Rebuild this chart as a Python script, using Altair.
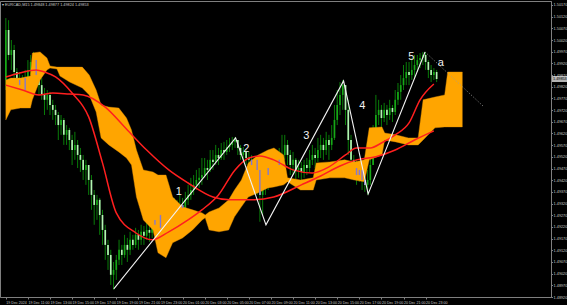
import altair as alt
import pandas as pd

# ---------------- data (prices in points, 1 point = 0.00001) ----------------
HEADER = "\u25be EURCAD,M15  1.49848 1.49877 1.49824 1.49853"
LAST_PRICE = 1.49853
LAST_LABEL = "1.49853"

FIRST_OPEN = 149849
HIGH = [150114, 150105, 150020, 149999, 149900, 149883, 149870, 149892, 149934, 149956,
        149969, 149956, 149892, 149857, 149815, 149806, 149798, 149764, 149742, 149712,
        149699, 149686, 149656, 149644, 149614, 149627, 149592, 149558, 149528, 149507,
        149485, 149442, 149378, 149357, 149344, 149293, 149229, 149165, 149122, 149070,
        149100, 149165, 149143, 149186, 149173, 149199, 149186, 149216, 149207, 149229,
        149224, 149242, 149233, 149271, 149293, 149259, 149314, 149336, 149314, 149336,
        149323, 149344, 149336, 149357, 149344, 149370, 149400, 149430, 149442, 149464,
        149472, 149515, 149515, 149507, 149549, 149549, 149571, 149558, 149579, 149584,
        149592, 149601, 149605, 149605, 149592, 149571, 149562, 149549, 149541, 149528,
        149515, 149528, 149507, 149442, 149485, 149515, 149528, 149549, 149528, 149558,
        149614, 149614, 149592, 149549, 149541, 149515, 149507, 149498, 149507, 149515,
        149549, 149571, 149558, 149601, 149614, 149601, 149627, 149614, 149656, 149742,
        149806, 149840, 149849, 149827, 149764, 149614, 149528, 149507, 149498, 149485,
        149455, 149464, 149549, 149656, 149785, 149764, 149742, 149751, 149742, 149764,
        149742, 149806, 149836, 149870, 149913, 149926, 149926, 149943, 149956, 149956,
        149964, 149969, 149969, 149934, 149913, 149900, 149892]
LOW = [149806, 149934, 149892, 149849, 149785, 149764, 149764, 149785, 149840, 149870,
       149883, 149849, 149785, 149764, 149699, 149721, 149699, 149678, 149656, 149592,
       149614, 149571, 149571, 149549, 149485, 149507, 149472, 149455, 149421, 149400,
       149357, 149293, 149229, 149250, 149186, 149143, 149079, 149036, 148972, 148951,
       148993, 149057, 149057, 149088, 149070, 149100, 149122, 149130, 149122, 149143,
       149143, 149165, 149156, 149173, 149199, 149165, 149199, 149229, 149229, 149250,
       149250, 149271, 149259, 149280, 149284, 149293, 149314, 149336, 149357, 149378,
       149387, 149400, 149430, 149421, 149455, 149464, 149485, 149485, 149507, 149507,
       149528, 149541, 149549, 149558, 149528, 149507, 149507, 149485, 149421, 149442,
       149370, 149357, 149242, 149271, 149357, 149378, 149442, 149464, 149455, 149464,
       149485, 149507, 149485, 149442, 149442, 149421, 149430, 149413, 149430, 149442,
       149455, 149485, 149472, 149498, 149515, 149507, 149528, 149507, 149549, 149592,
       149656, 149699, 149721, 149656, 149528, 149442, 149421, 149400, 149413, 149378,
       149370, 149357, 149400, 149485, 149592, 149656, 149648, 149669, 149656, 149678,
       149669, 149699, 149742, 149764, 149806, 149827, 149827, 149849, 149857, 149883,
       149900, 149913, 149892, 149857, 149840, 149849, 149840]
CLOSE = [150063, 149956, 149977, 149883, 149827, 149849, 149806, 149857, 149892, 149926,
         149934, 149870, 149827, 149785, 149764, 149785, 149742, 149721, 149699, 149656,
         149678, 149614, 149635, 149592, 149549, 149571, 149528, 149507, 149464, 149485,
         149421, 149357, 149314, 149336, 149271, 149207, 149143, 149100, 149015, 149036,
         149079, 149122, 149100, 149143, 149122, 149165, 149143, 149186, 149165, 149199,
         149182, 149207, 149195, 149229, 149250, 149216, 149271, 149293, 149271, 149301,
         149284, 149314, 149293, 149314, 149301, 149336, 149357, 149378, 149400, 149421,
         149430, 149442, 149472, 149464, 149507, 149498, 149528, 149515, 149549, 149541,
         149562, 149571, 149584, 149592, 149558, 149528, 149541, 149515, 149507, 149485,
         149507, 149464, 149357, 149400, 149442, 149472, 149485, 149507, 149485, 149507,
         149528, 149571, 149528, 149485, 149507, 149464, 149472, 149455, 149485, 149472,
         149507, 149528, 149515, 149549, 149571, 149549, 149592, 149571, 149601, 149678,
         149742, 149785, 149827, 149721, 149592, 149507, 149472, 149442, 149464, 149421,
         149400, 149421, 149485, 149592, 149699, 149721, 149686, 149721, 149699, 149729,
         149712, 149764, 149798, 149827, 149857, 149883, 149870, 149892, 149913, 149934,
         149943, 149956, 149926, 149892, 149870, 149883, 149853]
# candles drawn in the cloud's overlap colour
OVERLAP_BARS = [5, 7, 11, 54, 56, 64, 89, 91, 92, 95, 99, 127, 128, 129, 130]

# Ichimoku cloud (two spans)
CLOUD_BAR = [0.0, 1.8, 5.3, 8.9, 9.6, 12.4, 14.9, 16.0, 18.5, 19.6, 23.1, 27.7, 30.2, 32.7,
             34.5, 37.3, 40.9, 43.7, 45.5, 47.3, 49.8, 53.3, 55.1, 58.0, 60.4, 64.0, 67.6,
             71.1, 72.2, 73.6, 77.2, 80.7, 82.8, 85.3, 87.8, 91.4, 94.9, 97.1, 100.6, 102.0,
             106.7, 111.3, 112.4, 117.3, 122.7, 126.2, 129.8, 131.6, 136.2, 137.2, 141.2,
             145.8, 149.3, 151.1, 155.4, 158.9, 160.0, 165.3]
SPAN_A = [149849, 149857, 149857, 149866, 149964, 149969, 149943, 149909, 149904, 149904,
          149904, 149904, 149870, 149806, 149742, 149733, 149729, 149686, 149635, 149549,
          149464, 149455, 149442, 149442, 149348, 149306, 149293, 149280, 149271, 149284,
          149301, 149336, 149378, 149421, 149494, 149528, 149549, 149558, 149528, 149430,
          149421, 149430, 149494, 149498, 149507, 149498, 149507, 149644, 149648, 149622,
          149614, 149601, 149601, 149764, 149776, 149785, 149883, 149883]
SPAN_B = [149678, 149721, 149729, 149729, 149764, 149849, 149892, 149900, 149896, 149866,
          149840, 149815, 149785, 149712, 149601, 149571, 149541, 149515, 149485, 149348,
          149250, 149207, 149109, 149088, 149152, 149173, 149207, 149250, 149259, 149207,
          149199, 149207, 149263, 149306, 149348, 149366, 149387, 149391, 149400, 149413,
          149378, 149378, 149421, 149430, 149430, 149421, 149413, 149507, 149528, 149592,
          149584, 149571, 149571, 149592, 149644, 149648, 149648, 149648]

# two moving averages (red)
FAST_BAR = [0, 5, 11, 14, 18, 24, 30, 35, 40, 47, 53, 59, 66, 71, 77, 83, 88, 92, 97, 104,
            111, 117, 123, 127, 132, 136, 141, 146, 150, 155]
FAST_VAL = [149862, 149879, 149892, 149883, 149862, 149793, 149691, 149494, 149280, 149195,
            149165, 149199, 149250, 149293, 149357, 149464, 149515, 149524, 149507, 149464,
            149451, 149477, 149528, 149558, 149558, 149579, 149614, 149665, 149764, 149832]
SLOW_BAR = [0, 6, 12, 17, 23, 28, 36, 44, 51, 59, 66, 75, 81, 89, 97, 107, 114, 121, 127,
            134, 141, 148, 155]
SLOW_VAL = [149827, 149806, 149785, 149793, 149789, 149785, 149733, 149635, 149549, 149464,
            149408, 149348, 149336, 149336, 149348, 149400, 149438, 149481, 149507, 149520,
            149549, 149592, 149631]

# Elliott wave drawing
WAVE_BAR = [39.1, 83.2, 94.2, 122.3, 131.2, 151.8]
WAVE_VAL = [148955, 149601, 149229, 149845, 149361, 149969]
PROJ_BAR = [151.8, 173.2]
PROJ_VAL = [149969, 149733]
WAVE_TEXT = ["1", "2", "3", "4", "5", "a"]
WAVE_TEXT_BAR = [62.6, 87.1, 108.8, 129.1, 146.8, 157.5]
WAVE_TEXT_VAL = [149370, 149554, 149609, 149738, 149947, 149922]

# axes
TIME_LABELS = ["19 Dec 2024", "19 Dec 11:00", "19 Dec 13:00", "19 Dec 15:00", "19 Dec 17:00",
               "19 Dec 19:00", "19 Dec 21:00", "19 Dec 23:00", "20 Dec 01:00", "20 Dec 03:00",
               "20 Dec 05:00", "20 Dec 07:00", "20 Dec 09:00", "20 Dec 11:00", "20 Dec 13:00",
               "20 Dec 15:00", "20 Dec 17:00", "20 Dec 19:00", "20 Dec 21:00", "20 Dec 23:00"]
TIME_TICK_BARS = [0, 8, 16, 24, 32, 40, 48, 56, 64, 72, 80, 88, 96, 104, 112, 120, 128, 136,
                  144, 152]
PRICE_TICKS = [1.48920, 1.48970, 1.49020, 1.49070, 1.49120, 1.49170, 1.49220, 1.49270,
               1.49320, 1.49370, 1.49420, 1.49470, 1.49520, 1.49570, 1.49620, 1.49670,
               1.49720, 1.49770, 1.49820, 1.49870, 1.49920, 1.49970, 1.50020, 1.50070,
               1.50120, 1.50170]

# ---------------- tables ----------------
P = 1e5
opens = [FIRST_OPEN] + CLOSE[:-1]
candles = pd.DataFrame({
    "bar": list(range(len(CLOSE))),
    "open": [v / P for v in opens],
    "high": [v / P for v in HIGH],
    "low": [v / P for v in LOW],
    "close": [v / P for v in CLOSE],
    "dir": ["up" if c > o else "down" for o, c in zip(opens, CLOSE)],
})
overlap = candles[candles["bar"].isin(OVERLAP_BARS)]
cloud = pd.DataFrame({"bar": CLOUD_BAR, "a": [v / P for v in SPAN_A], "b": [v / P for v in SPAN_B]})
fast = pd.DataFrame({"bar": FAST_BAR, "v": [v / P for v in FAST_VAL]})
slow = pd.DataFrame({"bar": SLOW_BAR, "v": [v / P for v in SLOW_VAL]})
wave = pd.DataFrame({"bar": WAVE_BAR, "v": [v / P for v in WAVE_VAL], "seq": list(range(len(WAVE_BAR)))})
proj = pd.DataFrame({"bar": PROJ_BAR, "v": [v / P for v in PROJ_VAL]})
wlab = pd.DataFrame({"bar": WAVE_TEXT_BAR, "v": [v / P for v in WAVE_TEXT_VAL], "t": WAVE_TEXT})
last = pd.DataFrame({"p": [LAST_PRICE], "t": [LAST_LABEL]})
head = pd.DataFrame({"t": [HEADER]})

AX = "#c8c8c8"
LINE = "#7f7f7f"
RED = "#ff1f1f"
xscale = alt.Scale(domain=[-0.3, 195.6], nice=False, zero=False)
yscale = alt.Scale(domain=[1.48920, 1.50187], nice=False, zero=False)
label_expr = "[" + ",".join("'%s'" % s for s in TIME_LABELS) + "][round(datum.value/8)]"
xaxis = alt.Axis(values=TIME_TICK_BARS, labelExpr=label_expr, title=None, grid=False,
                 orient="bottom", labelAlign="left", labelBaseline="top", labelFontSize=3.6,
                 labelPadding=1, tickSize=2, labelColor=AX, tickColor=LINE, domainColor=LINE,
                 labelFlush=False, labelOverlap=False, labelFont="Liberation Sans")
yaxis = alt.Axis(values=PRICE_TICKS, format=".5f", orient="right", title=None, grid=False,
                 labelFontSize=3.8, labelPadding=0.6, tickSize=1.5, labelColor=AX,
                 tickColor=LINE, domainColor=LINE, labelFlush=False, labelOverlap=False,
                 labelBaseline="middle", labelFont="Liberation Sans")


def X(f):
    return alt.X(f, type="quantitative", scale=xscale, axis=xaxis)


def Y(f):
    return alt.Y(f, type="quantitative", scale=yscale, axis=yaxis)


wicks = alt.Chart(candles).mark_rule(color="#0a8a0a", strokeWidth=0.9).encode(
    x=X("bar"), y=Y("low"), y2="high")
bodies = alt.Chart(candles).mark_bar(size=1.7).encode(
    x=X("bar"), y=Y("open"), y2="close",
    color=alt.Color("dir:N", scale=alt.Scale(domain=["up", "down"], range=["#17a817", "#b2f5b2"]),
                    legend=None))
cloud_l = alt.Chart(cloud).mark_area(color="#FFA500", opacity=1, stroke="#e08e00",
                                     strokeWidth=0.4).encode(x=X("bar"), y=Y("a"), y2="b")
over_l = alt.Chart(overlap).mark_bar(size=1.4, color="#8479cf").encode(
    x=X("bar"), y=Y("open"), y2="close")
fast_l = alt.Chart(fast).mark_line(color=RED, strokeWidth=1.5, interpolate="monotone").encode(
    x=X("bar"), y=Y("v"))
slow_l = alt.Chart(slow).mark_line(color=RED, strokeWidth=1.5, interpolate="monotone").encode(
    x=X("bar"), y=Y("v"))
wave_l = alt.Chart(wave).mark_line(color="#f2f2f2", strokeWidth=1.1).encode(
    x=X("bar"), y=Y("v"), order="seq:Q")
proj_l = alt.Chart(proj).mark_line(color="#9a9a9a", strokeWidth=0.8, strokeDash=[1.2, 1.8]).encode(
    x=X("bar"), y=Y("v"))
wlab_l = alt.Chart(wlab).mark_text(color="#f2f2f2", fontSize=11, font="Liberation Sans",
                                   baseline="middle", align="center").encode(
    x=X("bar"), y=Y("v"), text="t:N")
box_l = alt.Chart(last).mark_tick(color="white", size=15, thickness=6).encode(
    x=alt.value(559.5), y=Y("p"))
boxt_l = alt.Chart(last).mark_text(color="black", fontSize=3.8, align="left", baseline="middle",
                                   font="Liberation Sans").encode(
    x=alt.value(553), y=Y("p"), text="t:N")
head_l = alt.Chart(head).mark_text(color=AX, fontSize=3.8, align="left", baseline="middle",
                                   font="Liberation Sans").encode(
    x=alt.value(2), y=alt.value(3.5), text="t:N")

chart = alt.layer(
    wicks, bodies, cloud_l, over_l, slow_l, fast_l, wave_l, proj_l, wlab_l, box_l, boxt_l, head_l
).properties(
    width=551, height=296, background="black",
    padding={"left": 0, "top": 1, "right": 16, "bottom": 8},
    autosize=alt.AutoSizeParams(type="none"),
).configure_view(stroke=LINE, strokeWidth=1, fill="black")

chart.save("out.html", embed_options={"renderer": "svg", "actions": False})
